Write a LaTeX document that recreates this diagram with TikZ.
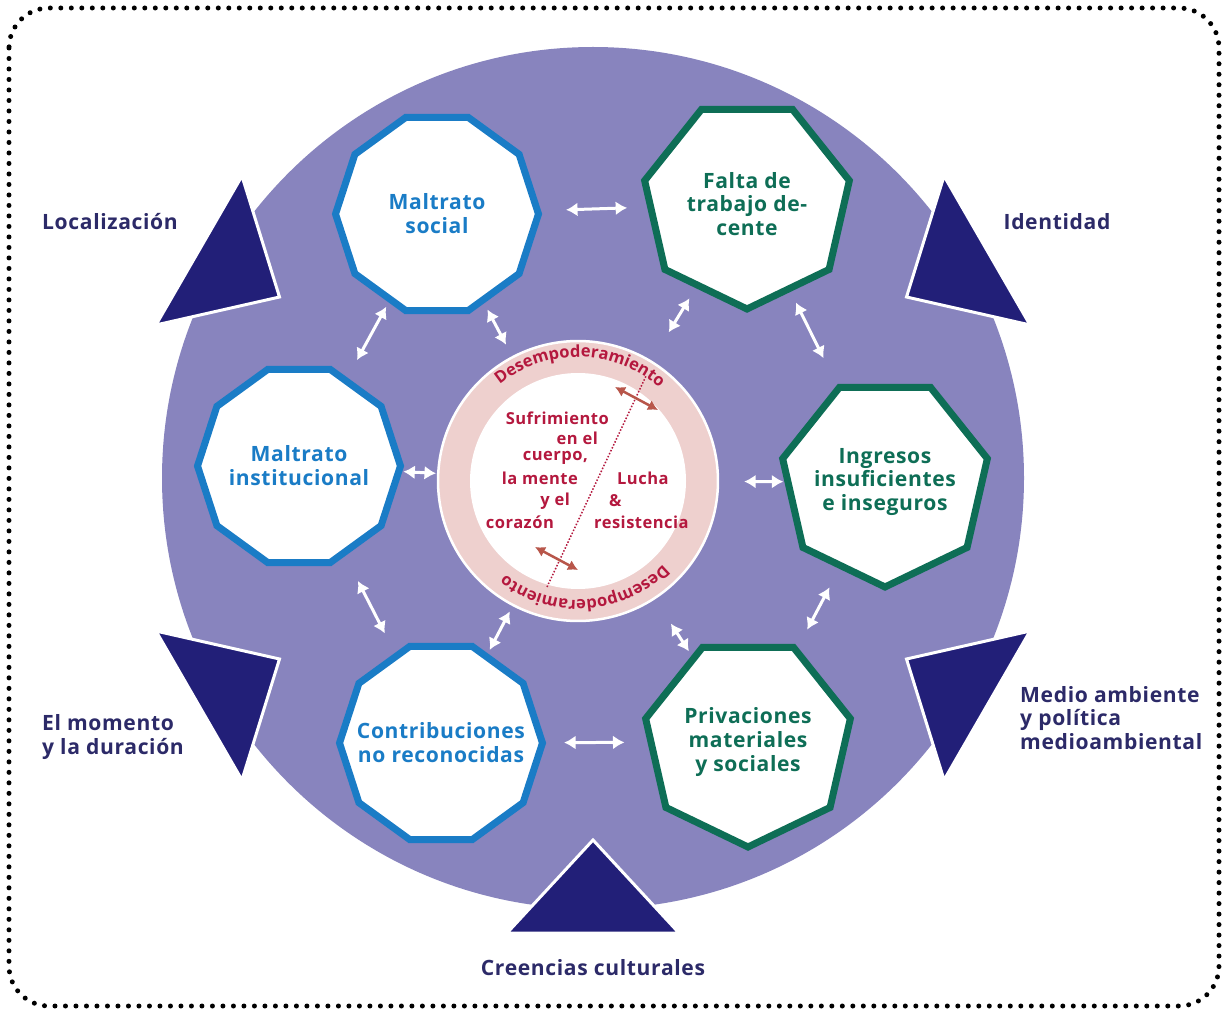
\documentclass[tikz,border=0pt]{standalone}
\usepackage{fontspec}
\setmainfont{Open Sans}[LetterSpace=3]
\usepackage{tikz}
\usetikzlibrary{shapes,arrows,arrows.meta,positioning,calc,decorations.text}

\definecolor{disc}{RGB}{136,132,190}
\definecolor{navy}{RGB}{34,31,120}
\definecolor{labelc}{RGB}{44,42,104}
\definecolor{mblue}{RGB}{26,124,198}
\definecolor{mgreen}{RGB}{14,110,86}
\definecolor{crim}{RGB}{180,24,62}
\definecolor{ringc}{RGB}{238,208,206}
\definecolor{brownarr}{RGB}{184,86,74}

\newcommand{\labfont}{\fontsize{12}{13.6}\selectfont\bfseries}
\newcommand{\corefont}{\fontsize{9.4}{11}\selectfont\bfseries}
\newcommand{\ringfont}{\fontsize{9.4}{11}\selectfont\bfseries}

\tikzset{
  blueoct/.style={regular polygon, regular polygon sides=10, draw=mblue,
    line width=1.4mm, fill=white, text=mblue, inner sep=-6mm,
    minimum size=4.06cm, align=center, font=\labfont},
  greenoct/.style={regular polygon, regular polygon sides=7,
    shape border rotate=180, draw=mgreen, line width=1.4mm, fill=white,
    text=mgreen, inner sep=-6mm, minimum size=4.2cm, align=center,
    font=\labfont},
  link/.style={{Latex[length=2.3mm,width=2.8mm]}-{Latex[length=2.3mm,width=2.8mm]},
    white, line width=0.6mm},
  tug/.style={{Latex[length=2mm,width=2.2mm]}-{Latex[length=2mm,width=2.2mm]},
    brownarr, line width=0.5mm},
  wedge/.style={fill=navy, draw=white, line width=0.6mm},
  outlabel/.style={text=labelc, font=\labfont},
  coretext/.style={text=crim, font=\corefont, inner sep=1pt}
}

\begin{document}
\begin{tikzpicture}[x=0.02cm, y=0.02cm]
  \useasboundingbox (0,0) rectangle (1227,1012);

  % frame
  \draw[line width=1mm, dash pattern=on 0pt off 2.1mm, line cap=round,
    rounded corners=8mm] (9,1004) rectangle (1219,6);

  % big disc and the five wedges
  \coordinate (c) at (593,534);
  \fill[disc] (c) circle (431);
  \foreach \a in {30,150,210,270,330}
    \draw[wedge] ($(c)+(\a:455)+(\a+90:86)$) -- ($(c)+(\a:362)$)
      -- ($(c)+(\a:455)+(\a-90:86)$) -- cycle;

  % the six boxes
  \node[blueoct] (ms) at (437,798) {Maltrato\\social};
  \node[greenoct] (ft) at (747,808) {Falta de\\trabajo de-\\cente};
  \node[blueoct] (mi) at (299,546) {Maltrato\\institucional};
  \node[greenoct] (ii) at (885,530) {Ingresos\\insuficientes\\e inseguros};
  \node[blueoct] (cn) at (441,269) {Contribuciones\\no reconocidas};
  \node[greenoct] (pm) at (748,270) {Privaciones\\materiales\\y sociales};

  % core
  \node[circle, fill=ringc, draw=white, line width=0.5mm, inner sep=0pt,
    minimum size=5.6cm] (core) at (578,531) {};
  \fill[white] (core.center) circle (108);

  \path[decorate, decoration={text along path, text align=center,
      text color=crim, text={|\ringfont|Desempoderamiento}}]
    ($(core.center)+(170:124)$) arc[start angle=170, end angle=8, radius=124];
  \path[decorate, decoration={text along path, text align=center,
      text color=crim, text={|\ringfont|Desempoderamiento}}]
    ($(core.center)+(-5:119)$) arc[start angle=-5, end angle=-167, radius=119];

  \coordinate (slashlo) at (547,425);
  \coordinate (slashhi) at (646,636);
  \draw[crim, densely dotted, line width=0.3mm] (slashlo) -- (slashhi);
  \coordinate (tug1a) at (615,625);
  \coordinate (tug1b) at (658,602);
  \coordinate (tug2a) at (535,465);
  \coordinate (tug2b) at (578,442);
  \draw[tug] (tug1a) -- (tug1b);
  \draw[tug] (tug2a) -- (tug2b);

  \foreach \w/\xx/\yy [count=\i] in {Sufrimiento/611/594, en el/600/574,
      {cuerpo,}/590/554, la mente/580/534, y el/572/511, corazón/556/490}
    \node[coretext, anchor=east] (hurt\i) at (\xx,\yy) {\w};
  \foreach \w/\xx/\yy [count=\i] in {Lucha/615/534, \&/607/511,
      resistencia/592/490}
    \node[coretext, anchor=west] (fight\i) at (\xx,\yy) {\w};

  % links
  \draw[link, shorten <=5mm, shorten >=4mm] (ms) -- (ft);
  \draw[link, shorten <=1mm, shorten >=4mm] (ms) -- (mi);
  \draw[link, shorten <=1.4mm, shorten >=2.6mm] (ms) -- (core);
  \draw[link, shorten <=2.4mm, shorten >=6.6mm] (ft) -- (core);
  \draw[link, shorten <=2.4mm, shorten >=6mm] (ft) -- (ii);
  \draw[link, shorten <=0.2mm, shorten >=0.2mm] (mi) -- (core);
  \draw[link, shorten <=0.2mm, shorten >=5mm] (ii) -- (core);
  \draw[link, shorten <=5.6mm, shorten >=4.4mm] (mi) -- (cn);
  \draw[link, shorten <=0.8mm, shorten >=1.2mm] (cn) -- (core);
  \draw[link, shorten <=3.6mm, shorten >=4.6mm] (cn) -- (pm);
  \draw[link, shorten <=1mm, shorten >=5.8mm] (pm) -- (core);
  \draw[link, shorten <=4.2mm, shorten >=4mm] (ii) -- (pm);

  % outside labels
  \node[outlabel] (loc) at (110,790) {Localización};
  \node[outlabel] (ident) at (1057,790) {Identidad};
  \node[outlabel, align=left] (time) at (113,275) {El momento\\y la duración};
  \node[outlabel, align=left, anchor=west] (env) at (1014,294)
    {Medio ambiente\\y política\\medioambiental};
  \node[outlabel] (belief) at (593,44) {Creencias culturales};
\end{tikzpicture}
\end{document}
